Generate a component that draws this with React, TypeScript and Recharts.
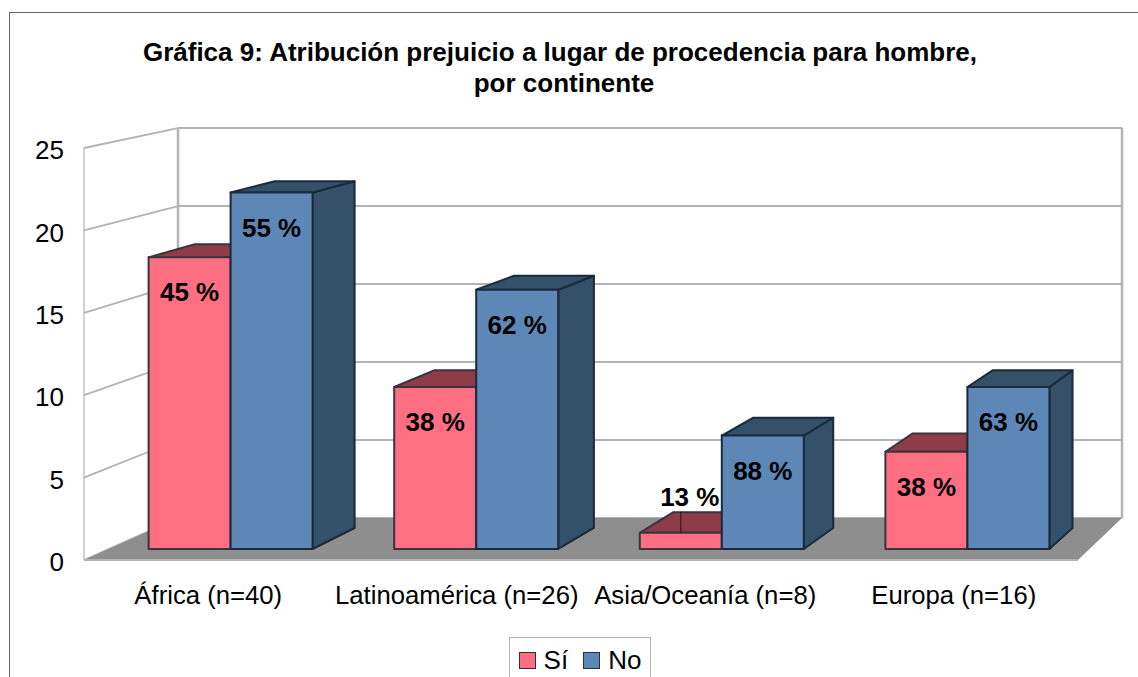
import { Bar, BarChart, Customized, LabelList, Legend, XAxis, YAxis } from 'recharts';

const categories = ['África (n=40)', 'Latinoamérica (n=26)', 'Asia/Oceanía (n=8)', 'Europa (n=16)'];
const siValues = [18, 10, 1, 6];
const noValues = [22, 16, 7, 10];
const siLabels = ['45 %', '38 %', '13 %', '38 %'];
const noLabels = ['55 %', '62 %', '88 %', '63 %'];
const yTicks = [0, 5, 10, 15, 20, 25];

const data = categories.map((name, i) => ({
  name,
  si: siValues[i],
  no: noValues[i],
  siLabel: siLabels[i],
  noLabel: noLabels[i],
}));

const FONT = '"Liberation Sans", Arial, sans-serif';
const WIDTH = 1138;
const HEIGHT = 700;
const PLOT = { left: 84, right: 1090, top: 148, bottom: 560 };
const FLOOR_RIGHT = 1078;
const X_AXIS_HEIGHT = 50;

// the original is a perspective 3D chart, everything recedes to one point
const VANISH = { x: 1953, y: -226 };
const WALL_DEPTH = { x: 0.0503, y: 0.0534 };
const BAR_DEPTH = { x: 0.0256, y: 0.0271 };

const project = (x: number, y: number, k: { x: number; y: number }): [number, number] => [
  x + k.x * (VANISH.x - x),
  y + k.y * (VANISH.y - y),
];
const pts = (list: [number, number][]) => list.map((p) => p.join(',')).join(' ');

const Background = () => {
  const frontY = (t: number) => PLOT.bottom - (t / 25) * (PLOT.bottom - PLOT.top);
  const [backL, floorBackY] = project(PLOT.left, PLOT.bottom, WALL_DEPTH);
  const [backR] = project(FLOOR_RIGHT, PLOT.bottom, WALL_DEPTH);
  const [, topBackY] = project(PLOT.left, PLOT.top, WALL_DEPTH);
  return (
    <g>
      <line x1={PLOT.left} x2={PLOT.left} y1={PLOT.top} y2={PLOT.bottom} stroke="#b3b3b3" strokeWidth={1.2} />
      <line x1={backL} x2={backL} y1={topBackY} y2={floorBackY} stroke="#b3b3b3" strokeWidth={2.5} />
      <line x1={backR} x2={backR} y1={topBackY} y2={floorBackY} stroke="#b3b3b3" strokeWidth={2.5} />
      {yTicks.map((t) => {
        const [, by] = project(PLOT.left, frontY(t), WALL_DEPTH);
        return (
          <g key={t}>
            <line x1={PLOT.left} y1={frontY(t)} x2={backL} y2={by} stroke="#b3b3b3" strokeWidth={1.8} />
            <line x1={backL} y1={by} x2={backR} y2={by} stroke="#b3b3b3" strokeWidth={2} />
          </g>
        );
      })}
      <polygon
        points={pts([
          [PLOT.left, PLOT.bottom],
          [FLOOR_RIGHT, PLOT.bottom],
          [backR, floorBackY],
          [backL, floorBackY],
        ])}
        fill="#8e8e8e"
      />
      <line x1={PLOT.left} x2={FLOOR_RIGHT} y1={PLOT.bottom} y2={PLOT.bottom} stroke="#b3b3b3" strokeWidth={2} />
      <text x={560} y={61} textAnchor="middle" fontFamily={FONT} fontSize={26} fontWeight="bold" fill="#000">
        Gráfica 9: Atribución prejuicio a lugar de procedencia para hombre,
      </text>
      <text x={564} y={92} textAnchor="middle" fontFamily={FONT} fontSize={26} fontWeight="bold" fill="#000">
        por continente
      </text>
    </g>
  );
};

const box3d = (front: string, top: string, side: string, edge: string) => (props: any) => {
  const { x, y, width, height } = props;
  const faceTop = pts([[x, y], [x + width, y], project(x + width, y, BAR_DEPTH), project(x, y, BAR_DEPTH)]);
  const faceSide = pts([
    [x + width, y],
    [x + width, y + height],
    project(x + width, y + height, BAR_DEPTH),
    project(x + width, y, BAR_DEPTH),
  ]);
  return (
    <g stroke={edge} strokeWidth={2} strokeLinejoin="round">
      <polygon points={faceSide} fill={side} />
      <polygon points={faceTop} fill={top} />
      <rect x={x} y={y} width={width} height={height} fill={front} />
    </g>
  );
};

// small bars get the label above them with a leader line, like the 13 %
const barLabel = (props: any) => {
  const { x, y, width, height, value } = props;
  const cx = x + width / 2;
  const small = height < 30;
  return (
    <g>
      {small && <line x1={cx} x2={cx} y1={y} y2={y - 21} stroke="#1c1c1c" strokeWidth={1} />}
      <text
        x={small ? cx + 9 : cx}
        y={small ? y - 36 : y + 35}
        textAnchor="middle"
        dominantBaseline="central"
        fontFamily={FONT}
        fontSize={26}
        fontWeight="bold"
        fill="#000"
      >
        {value}
      </text>
    </g>
  );
};

const LegendBox = ({ payload }: any) => (
  <div
    style={{
      display: 'flex',
      alignItems: 'center',
      justifyContent: 'center',
      gap: 15,
      boxSizing: 'border-box',
      width: 142,
      height: 46,
      border: '1px solid #b3b3b3',
      background: '#fff',
      fontFamily: FONT,
      fontSize: 26,
      color: '#000',
    }}
  >
    {(payload || []).map((p: any) => (
      <span key={p.value} style={{ display: 'flex', alignItems: 'center', gap: 8 }}>
        <span
          style={{
            display: 'inline-block',
            boxSizing: 'border-box',
            width: 17,
            height: 17,
            background: p.color,
            border: '1.5px solid #2a2f38',
          }}
        />
        {p.value}
      </span>
    ))}
  </div>
);

export default function App() {
  return (
    <div
      style={{
        position: 'absolute',
        left: 0,
        top: 0,
        width: 1138,
        height: 677,
        overflow: 'hidden',
        background: '#fff',
      }}
    >
      <div
        style={{
          position: 'absolute',
          left: 8.5,
          top: 11.5,
          width: 1200,
          height: 800,
          borderLeft: '1.5px solid #666',
          borderTop: '1.5px solid #666',
        }}
      />
      <div style={{ position: 'absolute', left: 0, top: 0 }}>
        <BarChart
          width={WIDTH}
          height={HEIGHT}
          data={data}
          barGap={0}
          barSize={82}
          margin={{
            top: PLOT.top,
            right: WIDTH - PLOT.right,
            bottom: HEIGHT - PLOT.bottom - X_AXIS_HEIGHT,
            left: 0,
          }}
        >
          <XAxis
            xAxisId="labels"
            dataKey="name"
            height={X_AXIS_HEIGHT}
            interval={0}
            padding={{ left: 0, right: PLOT.right - FLOOR_RIGHT }}
            axisLine={false}
            tickLine={false}
            tickSize={0}
            tickMargin={26}
            tick={{ fill: '#000', fontSize: 25.7, fontFamily: FONT }}
          />
          <XAxis xAxisId="bars" dataKey="name" hide height={0} padding={{ left: 23.6, right: 0 }} />
          <YAxis
            yAxisId="labels"
            width={PLOT.left}
            allowDataOverflow
            domain={[0, 25]}
            ticks={yTicks}
            axisLine={false}
            tickLine={false}
            tickSize={0}
            tickMargin={20}
            tick={{ fill: '#000', fontSize: 26, fontFamily: FONT, dy: 2 }}
          />
          <YAxis yAxisId="bars" hide width={0} allowDataOverflow domain={[-0.68, 24.75]} />
          <Customized component={Background} />
          <Legend
            layout="horizontal"
            verticalAlign="middle"
            itemSorter={null}
            content={<LegendBox />}
            wrapperStyle={{ left: 509, top: 637, width: 142, bottom: 'auto' }}
          />
          <Bar
            name="Sí"
            dataKey="si"
            xAxisId="bars"
            yAxisId="bars"
            fill="#ff6f83"
            shape={box3d('#ff6f83', '#8e3d48', '#8e3d48', '#3a343e')}
            isAnimationActive={false}
          >
            <LabelList dataKey="siLabel" content={barLabel} />
          </Bar>
          <Bar
            name="No"
            dataKey="no"
            xAxisId="bars"
            yAxisId="bars"
            fill="#5c87b7"
            shape={box3d('#5c87b7', '#355069', '#355069', '#1a2a3c')}
            isAnimationActive={false}
          >
            <LabelList dataKey="noLabel" content={barLabel} />
          </Bar>
        </BarChart>
      </div>
    </div>
  );
}
